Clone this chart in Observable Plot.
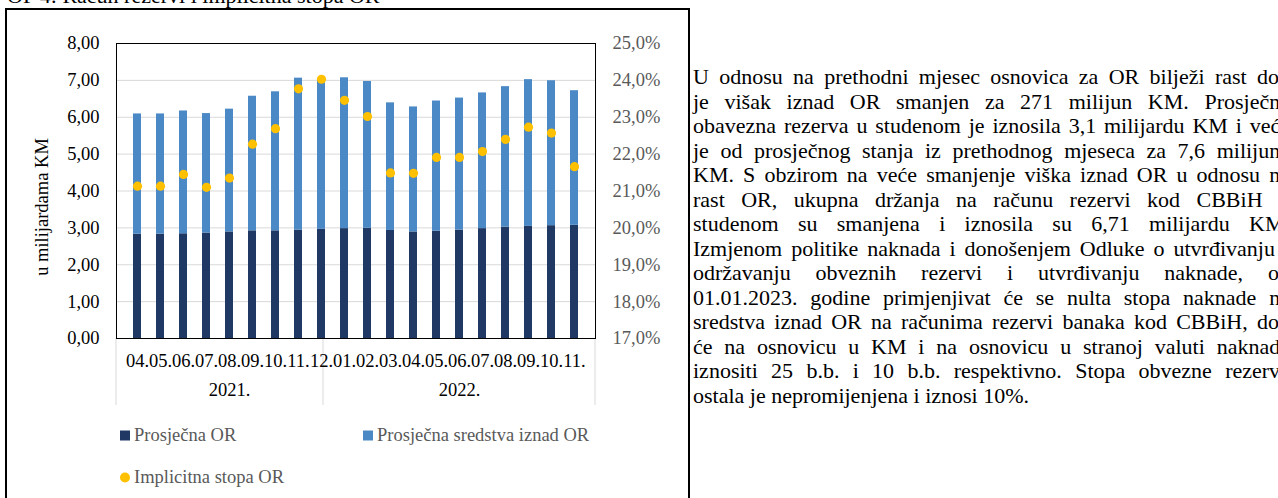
<!DOCTYPE html>
<html><head><meta charset="utf-8">
<script src="https://cdn.jsdelivr.net/npm/d3@7"></script>
<script src="https://cdn.jsdelivr.net/npm/@observablehq/plot@0.6"></script>
<style>
html,body{margin:0;padding:0;background:#fff;}
body{width:1278px;height:498px;overflow:hidden;position:relative;font-family:"Liberation Serif","Times New Roman",serif;color:#000;}
#title{position:absolute;left:7px;top:-16px;font-size:22px;line-height:24px;white-space:nowrap;}
#box{position:absolute;left:5px;top:8px;width:681px;height:520px;border:2px solid #000;border-bottom:none;}
#chart,#overlay{position:absolute;left:0;top:0;}
#ylabel{position:absolute;left:42px;top:207px;transform:translate(-50%,-50%) rotate(-90deg);font-size:18.5px;white-space:nowrap;}
.leg{position:absolute;font-size:18.5px;color:#595959;white-space:nowrap;transform:translateY(-50%);display:flex;align-items:center;}
.sw{display:inline-block;width:10px;height:10px;margin-right:4px;}
.ci{display:inline-block;width:10px;height:10px;border-radius:50%;margin-right:4px;}
#para{position:absolute;left:693px;top:65px;width:597px;font-size:22px;line-height:24.5px;}
#para .ln{display:flex;justify-content:space-between;white-space:nowrap;}
#para .last{white-space:nowrap;}
</style>
</head><body>
<div id="title">OP 4: Račun rezervi i implicitna stopa OR</div>
<div id="box"></div>
<div id="chart"></div>
<div id="overlay"></div>
<div id="ylabel">u milijardama KM</div>
<div id="legend"></div>
<div id="para"></div>
<script>
const categories = ["2021-04","2021-05","2021-06","2021-07","2021-08","2021-09","2021-10","2021-11","2021-12",
  "2022-01","2022-02","2022-03","2022-04","2022-05","2022-06","2022-07","2022-08","2022-09","2022-10","2022-11"];
const monthLabels = ["04.","05.","06.","07.","08.","09.","10.","11.","12.","01.","02.","03.","04.","05.","06.","07.","08.","09.","10.","11."];
const yearLabels = ["2021.","2022."];
const yearAnchors = ["2021-08","2022-06"];
const prosjecnaOR = [2.83,2.83,2.84,2.86,2.89,2.92,2.92,2.94,2.96,2.98,2.99,2.93,2.89,2.91,2.94,2.98,3.02,3.04,3.06,3.07];
const sredstvaIznadOR = [3.26,3.26,3.33,3.24,3.33,3.65,3.77,4.12,4.09,4.09,3.98,3.46,3.39,3.53,3.58,3.68,3.81,3.98,3.93,3.65];
const implicitnaStopa = [21.13,21.13,21.45,21.10,21.35,22.27,22.69,23.77,24.03,23.46,23.02,21.49,21.48,21.91,21.91,22.07,22.40,22.73,22.57,21.66];
const leftTicks = [0,1,2,3,4,5,6,7,8];
const rightTicks = [17,18,19,20,21,22,23,24,25];
const seriesNames = ["Prosječna OR","Prosječna sredstva iznad OR","Implicitna stopa OR"];
const colors = ["#203864","#4A89C6","#FFC000"];
const paragraphLines = [
  "U odnosu na prethodni mjesec osnovica za OR bilježi rast dok",
  "je višak iznad OR smanjen za 271 milijun KM. Prosječna",
  "obavezna rezerva u studenom je iznosila 3,1 milijardu KM i veća",
  "je od prosječnog stanja iz prethodnog mjeseca za 7,6 milijuna",
  "KM. S obzirom na veće smanjenje viška iznad OR u odnosu na",
  "rast OR, ukupna držanja na računu rezervi kod CBBiH u",
  "studenom su smanjena i iznosila su 6,71 milijardu KM.",
  "Izmjenom politike naknada i donošenjem Odluke o utvrđivanju i",
  "održavanju obveznih rezervi i utvrđivanju naknade, od",
  "01.01.2023. godine primjenjivat će se nulta stopa naknade na",
  "sredstva iznad OR na računima rezervi banaka kod CBBiH, dok",
  "će na osnovicu u KM i na osnovicu u stranoj valuti naknada",
  "iznositi 25 b.b. i 10 b.b. respektivno. Stopa obvezne rezerve",
  "ostala je nepromijenjena i iznosi 10%."
];

const W = 690, H = 420, mL = 116, mR = 95, mT = 43, mB = 82;
const font = '"Liberation Serif","Times New Roman",serif';

const stacked = [];
categories.forEach((c, i) => {
  stacked.push({c, s: seriesNames[0], v: prosjecnaOR[i]});
  stacked.push({c, s: seriesNames[1], v: sredstvaIznadOR[i]});
});
const rates = categories.map((c, i) => ({c, r: implicitnaStopa[i]}));

const xOpts = {type: "band", domain: categories, paddingInner: 0.64, paddingOuter: 0.32, axis: null};

function separators(index, scales, values, dims) {
  const x = scales.x;
  const x0 = x(categories[0]);
  const xs = [dims.marginLeft, x(categories[9]) - x0 + dims.marginLeft, dims.width - dims.marginRight];
  const yb = dims.height - dims.marginBottom;
  const g = d3.create("svg:g");
  g.selectAll("line").data(xs).join("line")
    .attr("x1", d => d).attr("x2", d => d)
    .attr("y1", yb).attr("y2", yb + 67)
    .attr("stroke", "#d9d9d9").attr("stroke-width", 1);
  return g.node();
}

const chart = Plot.plot({
  width: W, height: H, marginLeft: mL, marginRight: mR, marginTop: mT, marginBottom: mB,
  style: {background: "transparent", fontFamily: font, fontSize: "18.5px", color: "#000", overflow: "visible"},
  x: xOpts,
  y: {domain: [0, 8], axis: null},
  color: {domain: seriesNames.slice(0, 2), range: colors.slice(0, 2)},
  marks: [
    Plot.gridY({ticks: leftTicks, stroke: "#d9d9d9", strokeOpacity: 1}),
    Plot.barY(stacked, {x: "c", y: "v", fill: "s"}),
    separators,
    Plot.frame({stroke: "#000"}),
    Plot.axisY({ticks: leftTicks, tickSize: 0, tickPadding: 17, tickFormat: d => d.toFixed(2).replace(".", ","), label: null, fontSize: 18.5}),
    Plot.axisX({tickSize: 0, tickPadding: 15, tickFormat: c => monthLabels[categories.indexOf(c)], label: null, fontSize: 18.5}),
    Plot.text(yearLabels, {x: (d, i) => yearAnchors[i], text: d => d, frameAnchor: "bottom", dy: 57, fontSize: 18.5, fill: "#000"})
  ]
});
document.getElementById("chart").appendChild(chart);

const overlay = Plot.plot({
  width: W, height: H, marginLeft: mL, marginRight: mR, marginTop: mT, marginBottom: mB,
  style: {background: "transparent", fontFamily: font, fontSize: "18.5px", color: "#595959", overflow: "visible"},
  x: xOpts,
  y: {domain: [17, 25], axis: null},
  marks: [
    Plot.axisY({anchor: "right", ticks: rightTicks, tickSize: 0, tickPadding: 17, tickFormat: d => d.toFixed(1).replace(".", ",") + "%", label: null, fontSize: 18.5}),
    Plot.dot(rates, {x: "c", y: "r", r: 4.6, fill: colors[2], stroke: null})
  ]
});
document.getElementById("overlay").appendChild(overlay);

// legend
const legend = document.getElementById("legend");
const legItems = [
  {name: seriesNames[0], color: colors[0], shape: "sw", left: 120, top: 435},
  {name: seriesNames[1], color: colors[1], shape: "sw", left: 363, top: 435},
  {name: seriesNames[2], color: colors[2], shape: "ci", left: 120, top: 477}
];
legItems.forEach(it => {
  const d = document.createElement("div");
  d.className = "leg";
  d.style.left = it.left + "px";
  d.style.top = it.top + "px";
  const s = document.createElement("span");
  s.className = it.shape;
  s.style.background = it.color;
  d.appendChild(s);
  d.appendChild(document.createTextNode(it.name));
  legend.appendChild(d);
});

// paragraph
const para = document.getElementById("para");
paragraphLines.forEach((line, i) => {
  const d = document.createElement("div");
  if (i === paragraphLines.length - 1) {
    d.className = "last";
    d.textContent = line;
  } else {
    d.className = "ln";
    line.split(" ").forEach(w => {
      const s = document.createElement("span");
      s.textContent = w;
      d.appendChild(s);
    });
  }
  para.appendChild(d);
});
</script>
</body></html>
